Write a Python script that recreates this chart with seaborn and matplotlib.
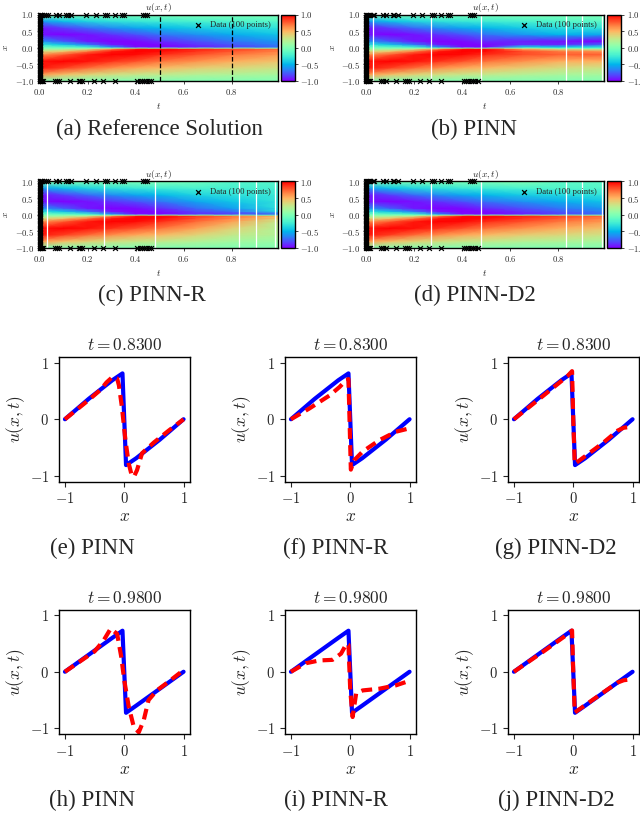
import numpy as np
import matplotlib
matplotlib.use("Agg")
import matplotlib.pyplot as plt
from matplotlib.ticker import FuncFormatter
import seaborn as sns

# ---- u(x,t) tables (rows = t nodes, cols = x nodes) ----
t_nodes = [0.0, 0.1, 0.2, 0.3, 0.4, 0.5, 0.65, 0.8, 0.99]
x_nodes = [-1, -0.8, -0.6, -0.4, -0.2, -0.1, -0.03, 0.0, 0.03, 0.1, 0.2, 0.4, 0.6, 0.8, 1]

# reference solution for x <= 0 (the field is odd in x)
ref_half = [
    [0, 0.59, 0.95, 0.95, 0.59, 0.31, 0.09, 0],
    [0, 0.46, 0.84, 1.00, 0.77, 0.43, 0.14, 0],
    [0, 0.38, 0.72, 0.96, 0.94, 0.67, 0.25, 0],
    [0, 0.32, 0.62, 0.87, 1.00, 0.93, 0.64, 0],
    [0, 0.28, 0.54, 0.79, 0.97, 1.00, 0.97, 0],
    [0, 0.25, 0.48, 0.70, 0.89, 0.97, 0.99, 0],
    [0, 0.21, 0.41, 0.61, 0.79, 0.87, 0.92, 0],
    [0, 0.18, 0.36, 0.53, 0.69, 0.78, 0.83, 0],
    [0, 0.15, 0.30, 0.44, 0.59, 0.66, 0.72, 0],
]

# predicted rows that differ from the reference (late times)
pinn_late = {
    0.65: [0, 0.21, 0.41, 0.61, 0.80, 0.80, 0.55, 0.10, -0.40, -0.88, -0.92, -0.60, -0.41, -0.21, 0],
    0.8: [0, 0.17, 0.34, 0.52, 0.75, 0.68, 0.30, -0.12, -0.45, -0.90, -0.95, -0.50, -0.33, -0.17, 0],
    0.99: [0, 0.15, 0.30, 0.50, 0.75, 0.60, 0.20, -0.15, -0.32, -0.72, -1.00, -0.55, -0.30, -0.14, 0.02],
}
pinnr_late = {
    0.65: [0, 0.20, 0.38, 0.56, 0.72, 0.80, 0.85, 0, -0.88, -0.82, -0.72, -0.55, -0.38, -0.21, -0.06],
    0.8: [0, 0.14, 0.27, 0.39, 0.56, 0.65, 0.70, -0.10, -0.85, -0.72, -0.57, -0.43, -0.32, -0.22, -0.16],
    0.99: [0, 0.10, 0.19, 0.21, 0.27, 0.42, 0.48, -0.20, -0.75, -0.38, -0.33, -0.31, -0.27, -0.22, -0.16],
}
d2_late = {
    0.8: [0, 0.18, 0.36, 0.53, 0.69, 0.78, 0.83, 0, -0.83, -0.78, -0.69, -0.53, -0.36, -0.18, -0.13],
    0.99: [0, 0.15, 0.30, 0.44, 0.59, 0.66, 0.72, 0, -0.72, -0.66, -0.59, -0.44, -0.30, -0.17, -0.13],
}

# training data (100 points): boundary times at x=1 / x=-1, initial positions at t=0
t_top = [0.0, 0.004, 0.008, 0.012, 0.018, 0.028, 0.035, 0.07, 0.083, 0.111, 0.118, 0.132,
         0.194, 0.234, 0.274, 0.281, 0.313, 0.343, 0.351, 0.432, 0.44, 0.449]
t_bot = [0.0, 0.003, 0.007, 0.011, 0.016, 0.063, 0.072, 0.082, 0.125, 0.164, 0.17, 0.178,
         0.225, 0.264, 0.313, 0.406, 0.416, 0.426, 0.435, 0.445, 0.455, 0.465]
x_init = [-0.97, -0.94, -0.9, -0.87, -0.83, -0.8, -0.77, -0.73, -0.7, -0.66, -0.63, -0.6,
          -0.56, -0.53, -0.49, -0.46, -0.42, -0.39, -0.35, -0.31, -0.28, -0.24, -0.2, -0.17,
          -0.13, -0.1, -0.06, -0.03, 0.01, 0.04, 0.08, 0.11, 0.15, 0.18, 0.22, 0.26, 0.29,
          0.33, 0.36, 0.4, 0.44, 0.47, 0.51, 0.54, 0.58, 0.61, 0.65, 0.68, 0.72, 0.75, 0.79,
          0.82, 0.86, 0.89, 0.93, 0.97]

# ---- slices u(x, t) at t = 0.83 and t = 0.98 ----
ex83_x = [-1, -0.6, -0.2, -0.03, 0.0, 0.03, 0.2, 0.6, 1]
ex83_u = [0, 0.36, 0.69, 0.81, 0, -0.81, -0.69, -0.36, 0]
ex98_x = [-1, -0.6, -0.2, -0.03, 0.0, 0.03, 0.2, 0.6, 1]
ex98_u = [0, 0.30, 0.60, 0.725, 0, -0.725, -0.60, -0.30, 0]

pinn83_x = [-1, -0.6, -0.4, -0.3, -0.2, -0.12, -0.09, -0.04, 0.02, 0.075, 0.13, 0.17, 0.215, 0.3, 0.5, 0.75, 1]
pinn83_u = [0, 0.34, 0.52, 0.65, 0.745, 0.72, 0.6, 0.22, -0.37, -0.78, -1.01, -1.0, -0.9, -0.6, -0.41, -0.2, 0]
pinn98_x = [-1, -0.5, -0.35, -0.23, -0.12, -0.05, 0.0, 0.076, 0.16, 0.245, 0.33, 0.41, 0.55, 0.78, 1]
pinn98_u = [0, 0.36, 0.55, 0.76, 0.67, 0.26, -0.15, -0.62, -0.97, -1.07, -0.85, -0.5, -0.33, -0.15, 0.03]

pinnr83_x = [-1, -0.69, -0.35, -0.18, -0.07, -0.03, 0.01, 0.04, 0.07, 0.21, 0.49, 0.77, 1]
pinnr83_u = [0, 0.19, 0.42, 0.57, 0.69, 0.71, -0.89, -0.8, -0.72, -0.57, -0.37, -0.22, -0.16]
pinnr98_x = [-1, -0.75, -0.52, -0.3, -0.155, -0.06, -0.03, 0.0, 0.04, 0.1, 0.21, 0.49, 0.77, 1]
pinnr98_u = [0, 0.15, 0.2, 0.21, 0.32, 0.5, 0.48, -0.33, -0.8, -0.38, -0.33, -0.3, -0.24, -0.16]

d283_x = [-1, -0.5, -0.1, -0.02, 0.0, 0.025, 0.5, 0.75, 0.85, 1]
d283_u = [0, 0.42, 0.76, 0.85, 0, -0.79, -0.42, -0.2, -0.15, -0.13]
d298_x = [-1, -0.5, -0.1, -0.02, 0.0, 0.025, 0.5, 0.75, 0.85, 1]
d298_u = [0, 0.36, 0.66, 0.73, 0, -0.72, -0.37, -0.19, -0.15, -0.13]

ref_lines = [0.5, 0.8]
slice_lines = [0.03, 0.27, 0.48, 0.83, 0.9, 0.98]


def full_table(late):
    rows = []
    for t, half in zip(t_nodes, ref_half):
        h = np.array(half, dtype=float)
        row = np.concatenate([h, -h[-2::-1]])
        if t in late:
            row = np.array(late[t], dtype=float)
        rows.append(row)
    return np.array(rows)


sns.set_style("ticks")
plt.rcParams["font.family"] = ["Liberation Serif", "DejaVu Serif"]
plt.rcParams["mathtext.fontset"] = "cm"
plt.rcParams["axes.edgecolor"] = "black"

fig = plt.figure(figsize=(6.4, 8.17), dpi=100)


def box(l, t, r, b):
    return [l / 640, 1 - b / 817, (r - l) / 640, (b - t) / 817]


fmt1 = FuncFormatter(lambda v, p: f"${v:.1f}$")
fmt0 = FuncFormatter(lambda v, p: f"${v:.0f}$")
small = 6.2


def heat(l, t, table, vlines, vcolor, vls, caption, cx, cy):
    ax = fig.add_axes(box(l, t, l + 238, t + 66.5))
    cax = fig.add_axes(box(l + 241, t, l + 255, t + 66.5))
    mesh = ax.pcolormesh(t_nodes, x_nodes, table.T, shading="gouraud", cmap="rainbow",
                         vmin=-1, vmax=1, rasterized=True)
    for v in vlines:
        ax.axvline(v, color=vcolor, ls=vls, lw=0.9)
    sns.scatterplot(x=[0.0] * len(x_init) + t_top + t_bot,
                    y=x_init + [1.0] * len(t_top) + [-1.0] * len(t_bot),
                    marker="x", color="k", s=12, linewidth=0.9, clip_on=False,
                    label="Data (100 points)", ax=ax, zorder=5)
    ax.legend(loc="upper right", frameon=False, fontsize=small, handletextpad=0.4,
              borderaxespad=0.4)
    ax.set_xlim(0, 0.99)
    ax.set_ylim(-1, 1)
    ax.set_xticks([0, 0.2, 0.4, 0.6, 0.8])
    ax.set_yticks([-1, -0.5, 0, 0.5, 1])
    ax.xaxis.set_major_formatter(fmt1)
    ax.yaxis.set_major_formatter(fmt1)
    ax.tick_params(labelsize=small, length=2, width=0.6, pad=2)
    ax.set_xlabel("$t$", fontsize=6.8, labelpad=3)
    ax.set_ylabel("$x$", fontsize=6.8, labelpad=3)
    ax.set_title("$u(x,t)$", fontsize=6.8, pad=2)
    for s in ax.spines.values():
        s.set_linewidth(1)
    cb = fig.colorbar(mesh, cax=cax)
    cb.set_ticks([-1, -0.5, 0, 0.5, 1])
    cax.yaxis.set_major_formatter(fmt1)
    cax.tick_params(labelsize=small, length=2, width=0.6, pad=2)
    cb.outline.set_linewidth(1)
    fig.text(cx / 640, 1 - cy / 817, caption, ha="center", va="center", fontsize=16.5)


heat(39.5, 14.5, full_table({}), ref_lines, "k", "--", "(a) Reference Solution", 159, 129)
heat(366, 14.5, full_table(pinn_late), slice_lines, "white", "-", "(b) PINN", 474, 129)
heat(39.5, 181.5, full_table(pinnr_late), slice_lines, "white", "-", "(c) PINN-R", 152, 295)
heat(366, 181.5, full_table(d2_late), slice_lines, "white", "-", "(d) PINN-D2", 475, 295)


def profile(l, t, tval, ex_x, ex_u, pr_x, pr_u, caption, cx, cy):
    ax = fig.add_axes(box(l, t, l + 130.5, t + 124.5))
    sns.lineplot(x=ex_x, y=ex_u, color="blue", lw=3, ax=ax)
    sns.lineplot(x=pr_x, y=pr_u, color="red", lw=3, linestyle=(0, (2.6, 1.5)), ax=ax)
    ax.set_xlim(-1.1, 1.1)
    ax.set_ylim(-1.1, 1.1)
    ax.set_xticks([-1, 0, 1])
    ax.set_yticks([-1, 0, 1])
    ax.xaxis.set_major_formatter(fmt0)
    ax.yaxis.set_major_formatter(fmt0)
    ax.tick_params(labelsize=10.5, length=3.5, width=0.8)
    ax.set_title(f"$t = {tval:.4f}$", fontsize=12.5, pad=5)
    ax.set_xlabel("$x$", fontsize=12.5, labelpad=2)
    ax.set_ylabel("$u(x,t)$", fontsize=12.5, labelpad=2)
    for s in ax.spines.values():
        s.set_linewidth(1)
    fig.text(cx / 640, 1 - cy / 817, caption, ha="center", va="center", fontsize=16.5)


cols = [59, 285, 508]
profile(cols[0], 357, 0.83, ex83_x, ex83_u, pinn83_x, pinn83_u, "(e) PINN", 92, 548)
profile(cols[1], 357, 0.83, ex83_x, ex83_u, pinnr83_x, pinnr83_u, "(f) PINN-R", 336, 548)
profile(cols[2], 357, 0.83, ex83_x, ex83_u, d283_x, d283_u, "(g) PINN-D2", 556, 548)
profile(cols[0], 609.5, 0.98, ex98_x, ex98_u, pinn98_x, pinn98_u, "(h) PINN", 92, 800)
profile(cols[1], 609.5, 0.98, ex98_x, ex98_u, pinnr98_x, pinnr98_u, "(i) PINN-R", 336, 800)
profile(cols[2], 609.5, 0.98, ex98_x, ex98_u, d298_x, d298_u, "(j) PINN-D2", 556, 800)

fig.savefig("out.png", dpi=100)
